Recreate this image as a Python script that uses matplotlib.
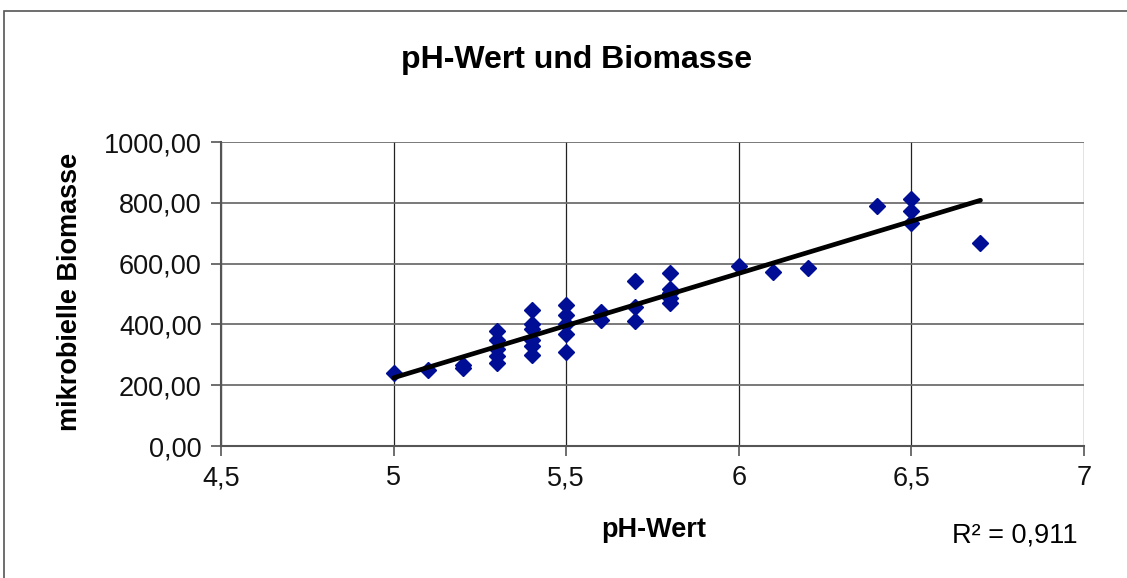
import numpy as np
import matplotlib
matplotlib.use("Agg")
import matplotlib.pyplot as plt
from matplotlib.patches import Rectangle

plt.rcParams['font.family'] = ['Liberation Sans', 'DejaVu Sans']

# Daten
ph = [5.0, 5.1, 5.2, 5.2,
      5.3, 5.3, 5.3, 5.3, 5.3,
      5.4, 5.4, 5.4, 5.4, 5.4, 5.4,
      5.5, 5.5, 5.5, 5.5, 5.5,
      5.6, 5.6,
      5.7, 5.7, 5.7,
      5.8, 5.8, 5.8, 5.8, 5.8,
      6.0, 6.1, 6.2, 6.4,
      6.5, 6.5, 6.5, 6.7]
biomasse = [240, 250, 258, 265,
            377, 348, 320, 296, 273,
            447, 400, 385, 350, 328, 300,
            463, 430, 402, 368, 308,
            441, 414,
            543, 458, 412,
            568, 518, 502, 486, 470,
            593, 572, 585, 789,
            814, 772, 734, 668]

x_ticks = [4.5, 5, 5.5, 6, 6.5, 7]
x_labels = ["4,5", "5", "5,5", "6", "6,5", "7"]
y_ticks = [0, 200, 400, 600, 800, 1000]
y_labels = ["0,00", "200,00", "400,00", "600,00", "800,00", "1000,00"]

# lineare Regression
b1, b0 = np.polyfit(ph, biomasse, 1)
x_line = np.array([min(ph), max(ph)])

fig = plt.figure(figsize=(11.27, 5.78), dpi=100)
ax = fig.add_axes([221/1127, 1-446/578, (1084-221)/1127, (446-142)/578])

# Rahmen um das Diagramm (rechts und unten abgeschnitten)
fig.patches.append(Rectangle((4/1127, -0.1), 1.2, 1.1 - 11/578, transform=fig.transFigure,
                             fill=False, edgecolor="#555555", linewidth=1.2))

ax.grid(axis="y", color="#6e6e6e", linewidth=1.3)
ax.grid(axis="x", color="#222222", linewidth=0.9)
ax.set_axisbelow(True)

ax.plot(ph, biomasse, linestyle="none", marker="D", markersize=8.5,
        color="#000e96", zorder=3)
ax.plot(x_line, b0 + b1*x_line, color="black", linewidth=3.4, zorder=4,
        solid_capstyle="round")

ax.set_xlim(4.5, 7)
ax.set_ylim(0, 1000)
ax.set_xticks(x_ticks)
ax.set_xticklabels(x_labels)
ax.set_yticks(y_ticks)
ax.set_yticklabels(y_labels)
ax.tick_params(labelsize=19.5, length=7, width=1.2, color="#555555", pad=7,
               labelcolor="#111111")

for s in ["top", "right"]:
    ax.spines[s].set_visible(False)
for s in ["left", "bottom"]:
    ax.spines[s].set_color("#555555")
    ax.spines[s].set_linewidth(1.5)

fig.text(577/1127, 1-60/578, "pH-Wert und Biomasse", ha="center", va="center",
         fontsize=23, fontweight="bold")
fig.text(654/1127, 1-530/578, "pH-Wert", ha="center", va="center",
         fontsize=19.5, fontweight="bold")
fig.text(70/1127, 1-292/578, "mikrobielle Biomasse", ha="center", va="center",
         rotation=90, fontsize=19.5, fontweight="bold")
fig.text(1078/1127, 1-535/578, "R² = 0,911", ha="right", va="center",
         fontsize=19.5)

fig.savefig("out.png", dpi=100)
